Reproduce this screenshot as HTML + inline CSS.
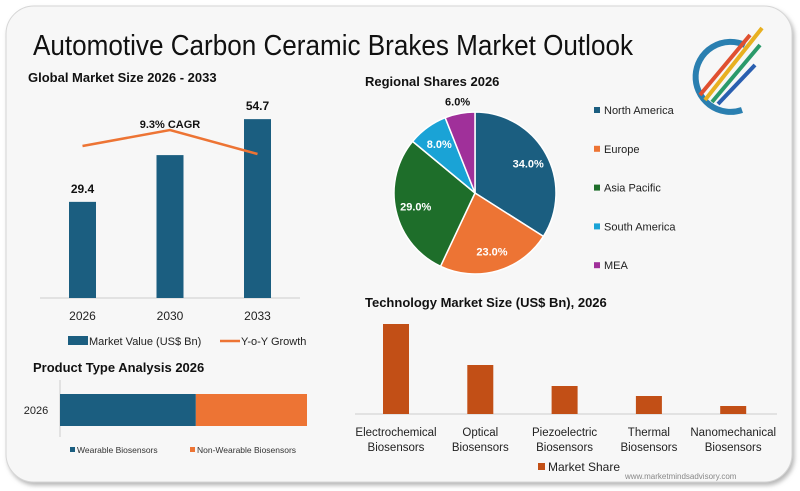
<!DOCTYPE html>
<html><head><meta charset="utf-8"><style>
html,body{margin:0;padding:0;background:#fff;width:800px;height:491px;overflow:hidden}
svg{display:block;font-family:"Liberation Sans",sans-serif}
</style></head><body>
<svg id="s" width="800" height="491" viewBox="0 0 800 491" xmlns="http://www.w3.org/2000/svg">
<defs><filter id="sh" x="-5%" y="-5%" width="110%" height="110%"><feDropShadow dx="2" dy="3" stdDeviation="2" flood-color="#888" flood-opacity="0.6"/></filter></defs>
<rect x="6" y="6" width="786" height="476" rx="28" fill="#f7f7f7" stroke="#d6d6d6" filter="url(#sh)"/>
<text x="33" y="55" font-size="29" fill="#111" textLength="600" lengthAdjust="spacingAndGlyphs">Automotive Carbon Ceramic Brakes Market Outlook</text>
<g>
<path d="M745 45 A35 35 0 1 0 742 110" fill="none" stroke="#2a7fb0" stroke-width="6"/>
<line x1="705" y1="100" x2="762" y2="28" stroke="#e8b020" stroke-width="4"/>
<line x1="712" y1="102" x2="760" y2="45" stroke="#2a9a6a" stroke-width="4"/>
<line x1="700" y1="95" x2="750" y2="35" stroke="#e05030" stroke-width="4"/>
<line x1="718" y1="104" x2="755" y2="65" stroke="#2a5fb0" stroke-width="4"/>
</g>
<g id="g1"></g><g id="g2"></g><g id="g3"></g><g id="g4"></g>
</svg>
<script>
const NS='http://www.w3.org/2000/svg';
function el(p,t,a,txt){const e=document.createElementNS(NS,t);for(const k in a)e.setAttribute(k,a[k]);if(txt!==undefined)e.textContent=txt;p.appendChild(e);return e;}

// Global market size
const years=['2026','2030','2033'];
const marketValues=[29.4,43.7,54.7];
const growthValues=[5.2,6.0,4.8];
const valueLabels=['29.4','','54.7'];

// Regional shares
const regions=['North America','Europe','Asia Pacific','South America','MEA'];
const shares=[34,23,29,8,6];
const regionColors=['#1b5e80','#ed7434','#1e6e2a','#1aa3d6','#a0309a'];

// Technology
const techs=[['Electrochemical','Biosensors'],['Optical','Biosensors'],['Piezoelectric','Biosensors'],['Thermal','Biosensors'],['Nanomechanical','Biosensors']];
const techValues=[9.0,4.9,2.8,1.8,0.8];

// Product type
const productTypes=['Wearable Biosensors','Non-Wearable Biosensors'];
const productShares=[55,45];

// ---- chart 1
const g1=document.getElementById('g1');
let t=el(g1,'text',{x:28,y:82,'font-size':13,'font-weight':'bold',fill:'#111'},'Global Market Size 2026 - 2033');

const base1=298, xs1=i=>82.5+i*87.5, ys1=v=>base1-v*3.27, yg=v=>250-v*20;
let ax=el(g1,'line',{x1:40,y1:base1,x2:300,y2:base1,stroke:'#ccc'});

marketValues.forEach((v,i)=>{
 const r=el(g1,'rect',{x:xs1(i)-13.5,y:ys1(v),width:27,height:base1-ys1(v),fill:'#1b5e80'});
 
 if(valueLabels[i]){const l=el(g1,'text',{x:xs1(i),y:ys1(v)-9,'font-size':12,'font-weight':'bold','text-anchor':'middle',fill:'#111'},valueLabels[i]);
 }
 const tk=el(g1,'text',{x:xs1(i),y:320,'font-size':12,'text-anchor':'middle',fill:'#222'},years[i]);
 
});
const ln=el(g1,'polyline',{points:growthValues.map((v,i)=>xs1(i)+','+yg(v)).join(' '),fill:'none',stroke:'#ed7434','stroke-width':2.5});

t=el(g1,'text',{x:xs1(1),y:128,'font-size':11,'font-weight':'bold','text-anchor':'middle',fill:'#111'},'9.3% CAGR');

let lg=el(g1,'rect',{x:68,y:336,width:20,height:9,fill:'#1b5e80'});

t=el(g1,'text',{x:89,y:345,'font-size':11,fill:'#222'},'Market Value (US$ Bn)');

lg=el(g1,'line',{x1:220,y1:341,x2:240,y2:341,stroke:'#ed7434','stroke-width':2.5});

t=el(g1,'text',{x:241,y:345,'font-size':11,fill:'#222'},'Y-o-Y Growth');


// ---- chart 2 pie
const g2=document.getElementById('g2');
t=el(g2,'text',{x:365,y:86,'font-size':13,'font-weight':'bold',fill:'#111'},'Regional Shares 2026');

const cx=475,cy=193,R=81,tot=shares.reduce((a,b)=>a+b,0);
let ang=0;
shares.forEach((v,i)=>{
 const a0=ang,a1=ang+v/tot*2*Math.PI;ang=a1;
 const p=(a,r)=>[cx+r*Math.sin(a),cy-r*Math.cos(a)];
 const [x0,y0]=p(a0,R),[x1,y1]=p(a1,R);
 const s=el(g2,'path',{d:`M${cx},${cy} L${x0},${y0} A${R},${R} 0 ${a1-a0>Math.PI?1:0} 1 ${x1},${y1} Z`,fill:regionColors[i],stroke:'#fff','stroke-width':1.5});
 
 const m=(a0+a1)/2,outside=v<7;const [lx,ly]=p(m,outside?R+12:R*0.75);
 const l=el(g2,'text',{x:lx,y:ly+4,'font-size':11,'font-weight':'bold','text-anchor':'middle',fill:outside?'#111':'#fff'},v.toFixed(1)+'%');
 
 const ly2=111+i*38.8;
 const sq=el(g2,'rect',{x:594,y:ly2-4,width:6,height:6,fill:regionColors[i]});
 
 const lt=el(g2,'text',{x:604,y:ly2+3,'font-size':11,fill:'#222'},regions[i]);
 
});

// ---- chart 3 product type
const g3=document.getElementById('g3');
t=el(g3,'text',{x:33,y:372,'font-size':13,'font-weight':'bold',fill:'#111'},'Product Type Analysis 2026');

el(g3,'line',{x1:60,y1:380,x2:60,y2:437,stroke:'#ccc'});
t=el(g3,'text',{x:36,y:414,'font-size':11,'text-anchor':'middle',fill:'#222'},'2026');

const pcol=['#1b5e80','#ed7434'],xw=v=>v*2.47;let px=60;
productShares.forEach((v,i)=>{
 const r=el(g3,'rect',{x:px,y:394,width:xw(v),height:32,fill:pcol[i]});px+=xw(v);
 
 const lx=[70,190][i];
 const sq=el(g3,'rect',{x:lx,y:447,width:5,height:5,fill:pcol[i]});
 
 const lt=el(g3,'text',{x:lx+7,y:453,'font-size':8.5,fill:'#333'},productTypes[i]);
 
});

// ---- chart 4 technology
const g4=document.getElementById('g4');
t=el(g4,'text',{x:365,y:307,'font-size':13,'font-weight':'bold',fill:'#111'},'Technology Market Size (US$ Bn), 2026');

const base4=414,xs4=i=>396+i*84.3,ys4=v=>base4-v*10;
el(g4,'line',{x1:355,y1:base4,x2:777,y2:base4,stroke:'#ccc'});
techValues.forEach((v,i)=>{
 const r=el(g4,'rect',{x:xs4(i)-13,y:ys4(v),width:26,height:base4-ys4(v),fill:'#c24f16'});
 
 techs[i].forEach((w,j)=>{const l=el(g4,'text',{x:xs4(i),y:436+j*15,'font-size':11.5,'text-anchor':'middle',fill:'#222'},w);
 });
});
lg=el(g4,'rect',{x:538,y:463,width:7,height:7,fill:'#c24f16'});

t=el(g4,'text',{x:548,y:471,'font-size':12,fill:'#222'},'Market Share');

t=el(g4,'text',{x:625,y:479,'font-size':8,fill:'#888'},'www.marketmindsadvisory.com');

</script>
</body></html>
